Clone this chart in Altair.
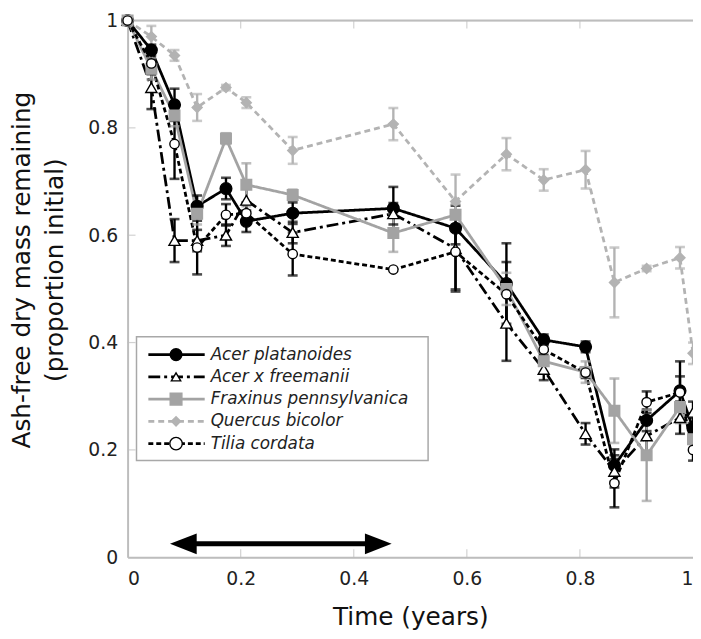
import altair as alt
import pandas as pd

# ---------------- data ----------------
species = ["Acer platanoides", "Acer x freemanii", "Fraxinus pennsylvanica",
           "Quercus bicolor", "Tilia cordata"]

time_years = [0.0, 0.042, 0.083, 0.123, 0.174, 0.21, 0.292, 0.47, 0.58,
              0.67, 0.736, 0.81, 0.861, 0.918, 0.977, 1.0]

acer_platanoides = [1.0, 0.945, 0.843, 0.654, 0.687, 0.626, 0.641, 0.65, 0.613,
                    0.51, 0.405, 0.392, 0.171, 0.255, 0.31, 0.24]
acer_freemanii = [1.0, 0.875, 0.59, 0.59, 0.60, 0.665, 0.605, 0.64, 0.575,
                  0.436, 0.35, 0.23, 0.16, 0.226, 0.26, 0.27]
fraxinus = [1.0, 0.91, 0.823, 0.64, 0.78, 0.694, 0.675, 0.604, 0.638,
            0.50, 0.365, 0.345, 0.273, 0.19, 0.28, 0.22]
quercus = [1.0, 0.97, 0.935, 0.838, 0.875, 0.847, 0.758, 0.807, 0.663,
           0.751, 0.703, 0.722, 0.512, 0.538, 0.558, 0.38]
tilia = [1.0, 0.92, 0.77, 0.577, 0.638, 0.641, 0.565, 0.536, 0.569,
         0.49, 0.387, 0.344, 0.138, 0.289, 0.307, 0.2]

err_acer_platanoides = [0, 0.01, 0.03, 0.02, 0.02, 0.02, 0.02, 0.04, 0.03,
                        0.075, 0.01, 0.01, 0.03, 0.02, 0.055, 0.02]
err_acer_freemanii = [0, 0.04, 0.04, 0.02, 0.02, 0.03, 0.02, 0.02, 0.08,
                      0.07, 0.02, 0.02, 0.03, 0.03, 0.03, 0.02]
err_fraxinus = [0, 0.02, 0.02, 0.02, 0.01, 0.04, 0.01, 0.035, 0.02,
                0.03, 0.02, 0.02, 0.06, 0.085, 0.03, 0.02]
err_quercus = [0, 0.02, 0.01, 0.025, 0.005, 0.01, 0.025, 0.03, 0.05,
               0.03, 0.02, 0.035, 0.065, 0.005, 0.02, 0.02]
err_tilia = [0, 0.02, 0.065, 0.05, 0.02, 0.02, 0.04, 0.0, 0.07,
             0.06, 0.01, 0.01, 0.045, 0.02, 0.03, 0.02]

arrow_x = [0.075, 0.467]
arrow_y = [0.025]

x_ticks = [0, 0.2, 0.4, 0.6, 0.8, 1]
y_ticks = [0, 0.2, 0.4, 0.6, 0.8, 1]

# ---------------- table ----------------
values = [acer_platanoides, acer_freemanii, fraxinus, quercus, tilia]
errors = [err_acer_platanoides, err_acer_freemanii, err_fraxinus, err_quercus, err_tilia]
rows = []
for name, vals, errs in zip(species, values, errors):
    for t, v, e in zip(time_years, vals, errs):
        rows.append({"species": name, "t": t, "v": v, "e": e, "lo": v - e, "hi": v + e})
df = pd.DataFrame(rows)

# ---------------- styles ----------------
line_colors = ["#000000", "#000000", "#a3a3a3", "#b3b3b3", "#000000"]
dashes = [[1, 0], [12, 4, 3, 4], [1, 0], [6, 4], [5, 3]]
shapes = ["circle", "triangle-up", "square", "diamond", "circle"]
fills = ["#000000", "#ffffff", "#a3a3a3", "#b3b3b3", "#ffffff"]
strokes = ["#000000", "#000000", "#a3a3a3", "#b3b3b3", "#000000"]
sizes = [140, 90, 140, 85, 160]

W, H = 572, 543
FONT = "DejaVu Sans"
AXIS_GRAY = "#bdbdbd"

xscale = alt.Scale(domain=[0, 1], nice=False, zero=False)
yscale = alt.Scale(domain=[0, 1], nice=False, zero=False)
xaxis = alt.Axis(values=x_ticks, format="~g", grid=False, ticks=False, tickSize=0,
                 domainColor=AXIS_GRAY, domainWidth=2,
                 labelFont=FONT, labelFontSize=19, labelColor="#222222", labelPadding=13,
                 titleFont=FONT, titleFontSize=25, titleFontWeight="normal",
                 titleColor="#111111", titleY=48, titleBaseline="top")
yaxis = alt.Axis(values=y_ticks, format="~g", grid=False, ticks=False, tickSize=0,
                 domainColor=AXIS_GRAY, domainWidth=2,
                 labelFont=FONT, labelFontSize=19, labelColor="#222222", labelPadding=10,
                 titleFont=FONT, titleFontSize=25, titleFontWeight="normal",
                 titleColor="#111111", titleLineHeight=33, titleX=-94, titleY=252,
                 titleAngle=270, titleBaseline="bottom", titleAlign="center")
XT = "Time (years)"
YT = ["Ash-free dry mass remaining", "(proportion initial)"]


def X(f):
    return alt.X(f"{f}:Q", scale=xscale, axis=xaxis, title=XT)


def Y(f):
    return alt.Y(f"{f}:Q", scale=yscale, axis=yaxis, title=YT)


color_enc = alt.Color("species:N", scale=alt.Scale(domain=species, range=line_colors), legend=None)
dash_enc = alt.StrokeDash("species:N", scale=alt.Scale(domain=species, range=dashes), legend=None)

base = alt.Chart(df)

lines = base.mark_line(strokeWidth=2.8).encode(
    x=X("t"), y=Y("v"), color=color_enc, strokeDash=dash_enc, detail="species:N")

ebars = base.transform_filter("datum.e > 0").mark_rule(strokeWidth=2.4).encode(
    x=X("t"), y=Y("lo"), y2="hi:Q", color=color_enc)
cap_lo = base.transform_filter("datum.e > 0").mark_tick(orient="horizontal", size=10, thickness=2.6).encode(
    x=X("t"), y=Y("lo"), color=color_enc)
cap_hi = base.transform_filter("datum.e > 0").mark_tick(orient="horizontal", size=10, thickness=2.6).encode(
    x=X("t"), y=Y("hi"), color=color_enc)

points = base.mark_point(filled=True, opacity=1, strokeWidth=1.4).encode(
    x=X("t"), y=Y("v"),
    shape=alt.Shape("species:N", scale=alt.Scale(domain=species, range=shapes), legend=None),
    fill=alt.Fill("species:N", scale=alt.Scale(domain=species, range=fills), legend=None),
    stroke=alt.Stroke("species:N", scale=alt.Scale(domain=species, range=strokes), legend=None),
    size=alt.Size("species:N", scale=alt.Scale(domain=species, range=sizes), legend=None),
)

one = pd.DataFrame({"a": [0]})
top_border = alt.Chart(one).mark_rule(color=AXIS_GRAY, strokeWidth=2).encode(
    x=alt.value(0), x2=alt.value(W), y=alt.value(0))

# small inward tick marks on the frame (bottom/top at x ticks, left at y ticks)
xt_df = pd.DataFrame({"xt": x_ticks[1:-1]})
yt_df = pd.DataFrame({"yt": y_ticks[1:-1]})
ticks_bottom = alt.Chart(xt_df).mark_tick(orient="vertical", size=8, thickness=1.2,
                                          color=AXIS_GRAY, yOffset=-4).encode(
    x=X("xt"), y=alt.value(H))
ticks_top = alt.Chart(xt_df).mark_tick(orient="vertical", size=8, thickness=1.2,
                                       color=AXIS_GRAY, yOffset=4).encode(
    x=X("xt"), y=alt.value(0))
ticks_left = alt.Chart(yt_df).mark_tick(orient="horizontal", size=8, thickness=1.2,
                                        color=AXIS_GRAY, xOffset=4).encode(
    y=Y("yt"), x=alt.value(0))

# double-headed arrow
arrow_df = pd.DataFrame({"x0": [arrow_x[0]], "x1": [arrow_x[1]], "y": arrow_y})
LEFT_HEAD = "M -1 0 L 1 -0.78 L 1 0.78 Z"
RIGHT_HEAD = "M 1 0 L -1 -0.78 L -1 0.78 Z"
shaft = alt.Chart(arrow_df).mark_rule(color="black", strokeWidth=5, xOffset=15, x2Offset=-15).encode(
    x=X("x0"), x2="x1:Q", y=Y("y"))
head_l = alt.Chart(arrow_df).mark_point(shape=LEFT_HEAD, size=729, filled=True, color="black",
                                        opacity=1, xOffset=13.5).encode(x=X("x0"), y=Y("y"))
head_r = alt.Chart(arrow_df).mark_point(shape=RIGHT_HEAD, size=729, filled=True, color="black",
                                        opacity=1, xOffset=-13.5).encode(x=X("x1"), y=Y("y"))

# legend (drawn by hand to show line + marker)
legend_layers = [alt.Chart(one).mark_rect(fill="white", stroke="#a8a8a8", strokeWidth=1.5).encode(
    x=alt.value(9), x2=alt.value(304), y=alt.value(320), y2=alt.value(445))]
for i, name in enumerate(species):
    yy = 338 + i * 22.5
    d1 = pd.DataFrame({"species": [name]})
    rule_kw = dict(color=line_colors[i], strokeWidth=2.8)
    if dashes[i] != [1, 0]:
        rule_kw["strokeDash"] = dashes[i]
    legend_layers.append(alt.Chart(d1).mark_rule(**rule_kw).encode(
        x=alt.value(21), x2=alt.value(78), y=alt.value(yy)))
    legend_layers.append(alt.Chart(d1).mark_point(
        shape=shapes[i], filled=True, fill=fills[i], stroke=strokes[i], strokeWidth=1.4,
        size=sizes[i], opacity=1).encode(x=alt.value(49), y=alt.value(yy)))
    legend_layers.append(alt.Chart(d1).mark_text(
        align="left", baseline="middle", font=FONT, fontStyle="italic", fontSize=17,
        color="#222222").encode(x=alt.value(84), y=alt.value(yy), text="species:N"))

chart = alt.layer(
    top_border, ticks_bottom, ticks_top, ticks_left,
    lines, ebars, cap_lo, cap_hi, points, shaft, head_l, head_r, *legend_layers
).properties(
    width=W, height=H,
    autosize=alt.AutoSizeParams(type="none"),
    padding={"left": 121, "top": 9, "right": 0, "bottom": 76},
).configure_view(stroke=None).configure(background="white")

chart.save("out.html", embed_options={"renderer": "svg", "actions": False})
